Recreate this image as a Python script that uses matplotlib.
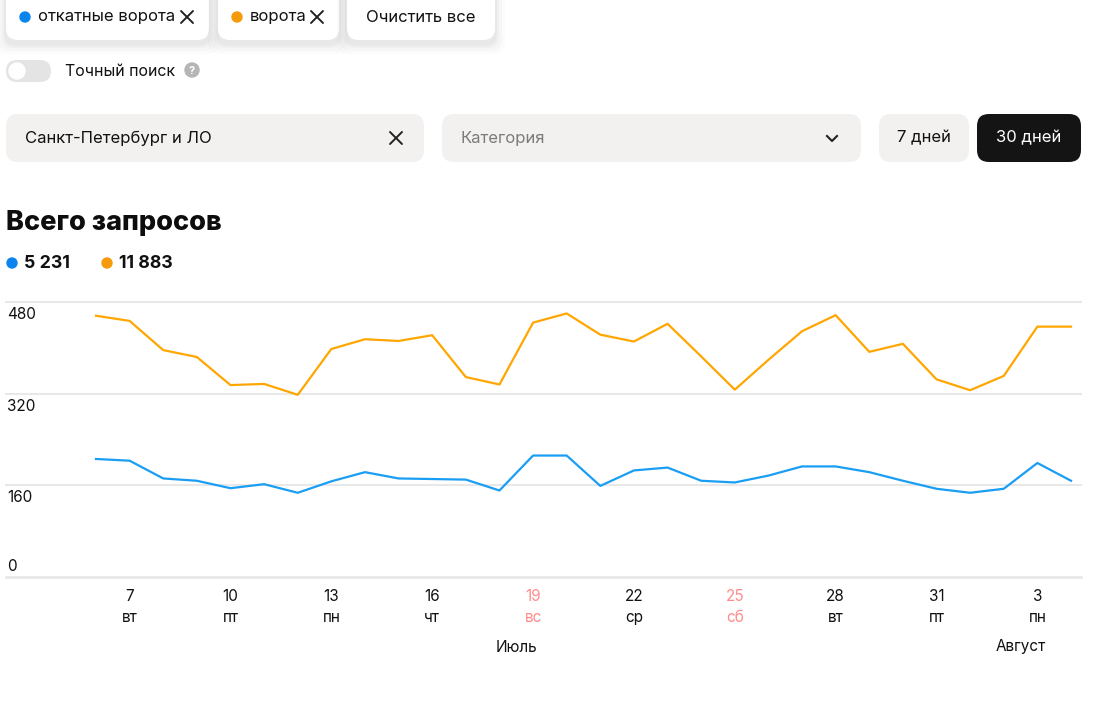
import matplotlib.pyplot as plt
from matplotlib.patches import FancyBboxPatch, Circle
from matplotlib.transforms import blended_transform_factory, offset_copy

plt.rcParams['font.family'] = ['Inter', 'DejaVu Sans']

# Data: 6 July .. 4 August
days = [6, 7, 8, 9, 10, 11, 12, 13, 14, 15, 16, 17, 18, 19, 20,
        21, 22, 23, 24, 25, 26, 27, 28, 29, 30, 31, 1, 2, 3, 4]
sliding_gates = [206, 203, 172, 168, 155, 162, 147, 167, 183, 172, 171, 170, 151, 212, 212,
                 159, 186, 191, 168, 165, 177, 193, 193, 183, 168, 154, 147, 154, 199, 168]
gates = [456, 447, 396, 384, 335, 337, 318, 398, 415, 412, 422, 349, 336, 444, 460,
         423, 411, 442, 385, 327, 379, 429, 457, 393, 407, 345, 326, 351, 437, 437]
series_names = ['откатные ворота', 'ворота']
totals = ['5 231', '11 883']
tick_idx = [1, 4, 7, 10, 13, 16, 19, 22, 25, 28]
tick_weekdays = ['вт', 'пт', 'пн', 'чт', 'вс', 'ср', 'сб', 'вт', 'пт', 'пн']
weekend = ['вс', 'сб']
months = ['Июль', 'Август']
month_pos = [12.5, 27.5]
y_levels = [0, 160, 320, 480]

blue = '#1a9ef4'
orange = '#ffa600'
dot_blue = '#0a84ec'
dot_orange = '#f59b0a'
red = '#ff8c8c'
panel = '#f2f1ef'

W, H = 1109, 707
fig = plt.figure(figsize=(W / 100, H / 100), dpi=100)

# overlay in pixel coordinates for the page controls
ui = fig.add_axes([0, 0, 1, 1])
ui.set_xlim(0, W)
ui.set_ylim(H, 0)
ui.axis('off')


def box(x0, y0, x1, y1, color, r=12, shadow=False):
    if shadow:
        for k, a in [(10, 0.015), (7, 0.02), (4, 0.025), (2, 0.03)]:
            ui.add_patch(FancyBboxPatch((x0 - k + r, y0 - k + 4 + r), x1 - x0 + 2 * k - 2 * r,
                                        y1 - y0 + 2 * k - 2 * r,
                                        boxstyle=f'round,pad={r}', fc='black', ec='none', alpha=a))
    ui.add_patch(FancyBboxPatch((x0 + r, y0 + r), x1 - x0 - 2 * r, y1 - y0 - 2 * r,
                                boxstyle=f'round,pad={r}', fc=color, ec='none'))


def cross(x, y, s=6, color='#222222', lw=1.4):
    ui.plot([x - s, x + s], [y - s, y + s], color=color, lw=lw, solid_capstyle='round')
    ui.plot([x - s, x + s], [y + s, y - s], color=color, lw=lw, solid_capstyle='round')


# chips
box(6, -14, 209, 40, 'white', shadow=True)
box(218, -14, 339, 40, 'white', shadow=True)
box(347, -14, 495, 40, 'white', shadow=True)
ui.add_patch(Circle((25, 17), 5, color=dot_blue))
ui.text(38, 17, series_names[0], fontsize=12, va='center', color='#111111')
cross(187, 17, 6)
ui.add_patch(Circle((237, 17), 5, color=dot_orange))
ui.text(250, 17, series_names[1], fontsize=12, va='center', color='#111111')
cross(317, 17, 6)
ui.text(421, 17, 'Очистить все', fontsize=12, va='center', ha='center', color='#111111')

# toggle
box(6, 60, 51, 82, '#e4e4e4', r=11)
ui.add_patch(Circle((17, 71), 8, color='white'))
ui.text(65, 71, 'Точный поиск', fontsize=11.5, va='center', color='#111111')
ui.add_patch(Circle((192, 70), 7, color='#b5b5b5'))
ui.text(192, 70.5, '?', fontsize=8, va='center', ha='center', color='white', fontweight='bold')

# selectors
box(6, 114, 424, 162, panel)
ui.text(25, 138, 'Санкт-Петербург и ЛО', fontsize=12, va='center', color='#111111')
cross(396, 138, 6)
box(442, 114, 861, 162, panel)
ui.text(461, 138, 'Категория', fontsize=12, va='center', color='#7b7b7b')
ui.plot([827, 832, 837], [136, 141, 136], color='#222222', lw=1.5)
box(879, 114, 969, 162, panel)
ui.text(924, 138, '7 дней', fontsize=12, va='center', ha='center', color='#111111')
box(977, 114, 1081, 162, '#141414')
ui.text(1029, 138, '30 дней', fontsize=12, va='center', ha='center', color='white')

# title and totals
ui.text(6, 223, 'Всего запросов', fontsize=19.5, fontweight='heavy', va='center', color='#0d0d0d')
ui.add_patch(Circle((12, 263), 5, color=dot_blue))
ui.text(24, 263, totals[0], fontsize=12.8, fontweight='bold', va='center', color='#111111')
ui.add_patch(Circle((107, 263), 5, color=dot_orange))
ui.text(119, 263, totals[1], fontsize=12.8, fontweight='bold', va='center', color='#111111')

# chart
left, right, top, bottom = 6, 1081, 302, 577
ax = fig.add_axes([left / W, 1 - bottom / H, (right - left) / W, (bottom - top) / H])
ax.patch.set_alpha(0)
px_per_day = (1071 - 96) / 29
x = list(range(len(days)))
ax.set_xlim(-(96 - left) / px_per_day, 29 + (right - 1071) / px_per_day)
ax.set_ylim(0, 480)
for s in ax.spines.values():
    s.set_visible(False)
ax.set_yticks([])

for v in y_levels:
    ax.axhline(v, color='#e8e8e8', lw=1.5 if v else 2, zorder=0, clip_on=False)

ax.plot(x, gates, color=orange, lw=1.6, clip_on=False)
ax.plot(x, sliding_gates, color=blue, lw=1.6, clip_on=False)

ytr = blended_transform_factory(ax.transAxes, ax.transData)
for v in y_levels:
    if v == 0:
        t = offset_copy(ytr, fig=fig, x=1, y=3, units='dots')
        ax.text(0, v, str(v), transform=t, fontsize=11, va='bottom', ha='left', color='#111111')
    else:
        t = offset_copy(ytr, fig=fig, x=1, y=-5, units='dots')
        ax.text(0, v, str(v), transform=t, fontsize=11, va='top', ha='left', color='#111111')

labels = [f'{days[i]}\n{w}' for i, w in zip(tick_idx, tick_weekdays)]
ax.set_xticks(tick_idx, labels=labels)
ax.tick_params(axis='x', length=0, pad=8.5, labelsize=11)
for lab, w in zip(ax.get_xticklabels(), tick_weekdays):
    lab.set_linespacing(1.55)
    lab.set_color(red if w in weekend else '#111111')

xtr = blended_transform_factory(ax.transData, ax.transAxes)
for m, p in zip(months, month_pos):
    ax.text(p, -(647 - bottom) / (bottom - top), m, transform=xtr, fontsize=11,
            ha='center', va='center', color='#111111')

fig.savefig('out.png', dpi=100)
